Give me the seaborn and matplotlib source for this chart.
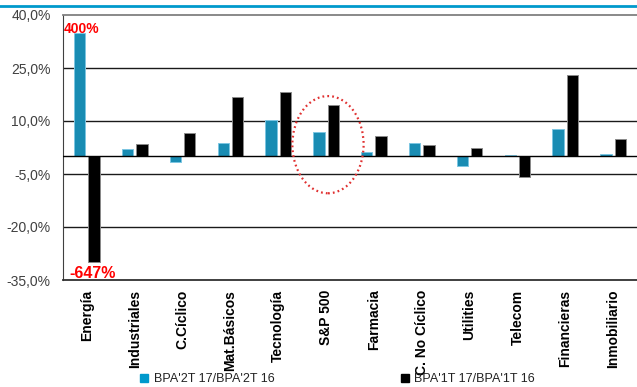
import numpy as np
import pandas as pd
import matplotlib
matplotlib.use("Agg")
import matplotlib.pyplot as plt
from matplotlib.patches import Ellipse
from matplotlib.lines import Line2D
import seaborn as sns

# Sector names (x axis)
sectors = ["Energía", "Industriales", "C.Cíclico", "Mat.Básicos", "Tecnología",
           "S&P 500", "Farmacia", "C. No Cíclico", "Utilities", "Telecom",
           "Financieras", "Inmobiliario"]

# Year-on-year EPS growth, %
series_q2 = "BPA'2T 17/BPA'2T 16"
series_q1 = "BPA'1T 17/BPA'1T 16"
growth_q2 = [400.0, 2.0, -1.5, 3.7, 10.2, 6.8, 1.1, 3.8, -2.7, 0.5, 7.7, 0.7]
growth_q1 = [-647.0, 3.6, 6.7, 16.7, 18.1, 14.5, 5.7, 3.2, 2.5, -5.8, 22.9, 4.9]

# Y axis ticks
y_ticks = [40, 25, 10, -5, -20, -35]
y_tick_labels = ["40,0%", "25,0%", "10,0%", "-5,0%", "-20,0%", "-35,0%"]

# Out-of-scale bars are cut at these heights and labelled with their true value
cap_high, cap_low = 35.0, -30.0

BLUE = "#0099CC"
colors = {series_q2: BLUE, series_q1: "black"}
edges = {series_q2: "#7cc6e2", series_q1: "#8a8a8a"}

df = pd.DataFrame({
    "sector": sectors * 2,
    "series": [series_q2] * len(sectors) + [series_q1] * len(sectors),
    "value": growth_q2 + growth_q1,
})
df["shown"] = df["value"].clip(lower=cap_low, upper=cap_high)

plt.rcParams["font.family"] = ["Liberation Sans", "DejaVu Sans"]

fig = plt.figure(figsize=(6.37, 3.87), dpi=100)
ax = fig.add_axes([63 / 637, 1 - 280 / 387, 1 - 63 / 637, (280 - 15) / 387])

sns.barplot(data=df, x="sector", y="shown", hue="series",
            order=sectors, hue_order=[series_q2, series_q1],
            palette=colors, width=0.6, gap=0.2, errorbar=None,
            linewidth=0.7, legend=False, ax=ax, zorder=3)

# Bar outlines: pale blue on the blue series, grey on the black one
for container, s in zip(ax.containers, [series_q2, series_q1]):
    for patch in container:
        patch.set_edgecolor(edges[s])

ax.set_xlim(-0.5, len(sectors) - 0.5)
ax.set_ylim(-35, 40)
ax.set_yticks(y_ticks)
ax.set_yticklabels(y_tick_labels)
ax.set_xlabel("")
ax.set_ylabel("")

# Horizontal reference lines and zero line
for yv in y_ticks[1:-1]:
    ax.axhline(yv, color="#1a1a1a", lw=1.0, zorder=1)
ax.axhline(0, color="black", lw=1.0, zorder=4)

ax.spines["right"].set_visible(False)
ax.spines["top"].set_color("#808080")
ax.spines["top"].set_linewidth(1.3)
ax.spines["left"].set_color("#404040")
ax.spines["bottom"].set_color("#303030")
ax.spines["bottom"].set_linewidth(1.3)

ax.tick_params(axis="y", length=0, pad=9, labelsize=10, labelcolor="#404040")
ax.tick_params(axis="x", length=0, pad=7)
for lab in ax.get_xticklabels():
    lab.set_rotation(90)
    lab.set_fontfamily("Liberation Sans")
    lab.set_fontweight("bold")
    lab.set_fontsize(10)
    lab.set_va("top")
    lab.set_ha("center")

# True values of the bars that exceed the scale
for i, sector in enumerate(sectors):
    for s, offset in ((series_q2, -0.15), (series_q1, 0.15)):
        v = df.loc[(df.sector == sector) & (df.series == s), "value"].iloc[0]
        if v > cap_high:
            ax.text(i + offset + 0.03, cap_high, f"{v:.0f}%", color="red",
                    fontweight="bold", fontsize=10, ha="center", va="baseline",
                    zorder=5)
        elif v < cap_low:
            ax.text(i + offset - 0.03, cap_low - 0.9, f"{v:.0f}%", color="red",
                    fontweight="bold", fontsize=11.5, ha="center", va="top",
                    zorder=5)

# Highlight around the index
ax.add_patch(Ellipse((5.04, 3.3), 1.49, 27.5, fill=False, edgecolor="#E03030",
                     lw=1.6, linestyle=(0, (0.8, 1.4)), zorder=6, clip_on=False))

# Blue rule across the top
fig.add_artist(Line2D([0, 1], [1 - 5.5 / 387] * 2, color=BLUE, lw=2.0,
                      transform=fig.transFigure))

handles = [Line2D([], [], marker="s", linestyle="none", markersize=6,
                  markerfacecolor=colors[s], markeredgecolor=colors[s])
           for s in (series_q2, series_q1)]
fig.legend(handles, [series_q2, series_q1], loc="center", ncol=2,
           bbox_to_anchor=(337 / 637, 1 - 379 / 387), frameon=False,
           fontsize=9, handlelength=0.8, handletextpad=0.4,
           columnspacing=10.0, labelcolor="#222222")

fig.savefig("out.png", dpi=100)
